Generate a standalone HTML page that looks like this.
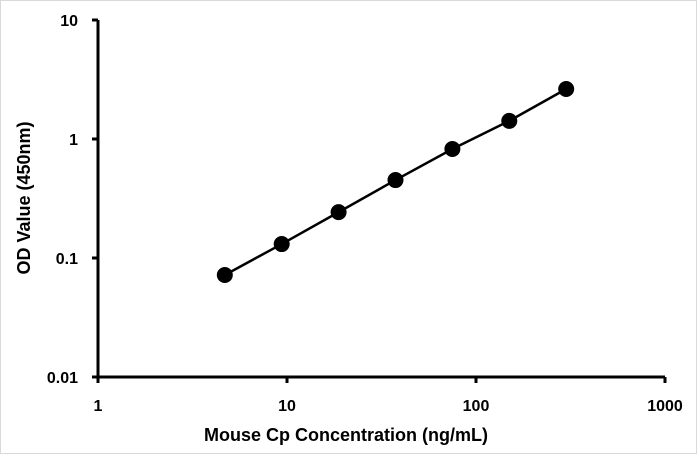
<!DOCTYPE html>
<html><head><meta charset="utf-8"><style>
html,body{margin:0;padding:0;background:#fff;}
svg{display:block;font-family:"Liberation Sans","DejaVu Sans",sans-serif;}
</style></head><body>
<svg id="chart" width="697" height="454" viewBox="0 0 697 454" xmlns="http://www.w3.org/2000/svg">
<rect x="0.5" y="0.5" width="696" height="453" fill="#fff" stroke="#d9d9d9"/>
<g id="axes"></g>
<g id="series"></g>
<text x="346" y="441" text-anchor="middle" font-size="18" font-weight="bold" fill="#000">Mouse Cp Concentration (ng/mL)</text>
<text transform="translate(30,198) rotate(-90)" text-anchor="middle" font-size="18" font-weight="bold" fill="#000">OD Value (450nm)</text>
</svg>
<script>
const concentrations = [4.6875, 9.375, 18.75, 37.5, 75, 150, 300];
const odValues = [0.072, 0.131, 0.243, 0.452, 0.824, 1.42, 2.63];
const xTicks = [1, 10, 100, 1000];
const xTickLabels = ["1", "10", "100", "1000"];
const yTicks = [0.01, 0.1, 1, 10];
const yTickLabels = ["0.01", "0.1", "1", "10"];

const X0 = 98, X1 = 665, Y0 = 377, Y1 = 20;
function xScale(v){ return X0 + (Math.log10(v) - 0) / 3 * (X1 - X0); }
function yScale(v){ return Y0 - (Math.log10(v) + 2) / 3 * (Y0 - Y1); }
const NS = "http://www.w3.org/2000/svg";
function mk(tag, attrs, parent){ const e = document.createElementNS(NS, tag); for (const k in attrs) e.setAttribute(k, attrs[k]); parent.appendChild(e); return e; }
const axes = document.getElementById('axes');
const series = document.getElementById('series');

const xa = mk('line', {x1: X0, y1: Y0, x2: X1, y2: Y0, stroke: '#000', 'stroke-width': 3}, axes);


const ya = mk('line', {x1: X0, y1: Y0, x2: X0, y2: Y1, stroke: '#000', 'stroke-width': 3}, axes);



xTicks.forEach((t, i) => {
  const x = xScale(t);
  const tk = mk('line', {x1: x, y1: Y0, x2: x, y2: Y0 + 6, stroke: '#000', 'stroke-width': 3}, axes);
  
  
  const lb = mk('text', {x: x, y: 411, 'text-anchor': 'middle', 'font-size': 16, 'font-weight': 'bold'}, axes);
  lb.textContent = xTickLabels[i];
  
  
});
yTicks.forEach((t, i) => {
  const y = yScale(t);
  const tk = mk('line', {x1: X0 - 6, y1: y, x2: X0, y2: y, stroke: '#000', 'stroke-width': 3}, axes);
  
  
  const lb = mk('text', {x: 78, y: y + 6, 'text-anchor': 'end', 'font-size': 16, 'font-weight': 'bold'}, axes);
  lb.textContent = yTickLabels[i];
  
  
});

const pts = concentrations.map((c, i) => xScale(c) + ',' + yScale(odValues[i])).join(' ');
const pl = mk('polyline', {points: pts, fill: 'none', stroke: '#000', 'stroke-width': 2.5}, series);


concentrations.forEach((c, i) => {
  const p = mk('circle', {cx: xScale(c), cy: yScale(odValues[i]), r: 8, fill: '#000'}, series);
  
  
});
</script>
</body></html>
